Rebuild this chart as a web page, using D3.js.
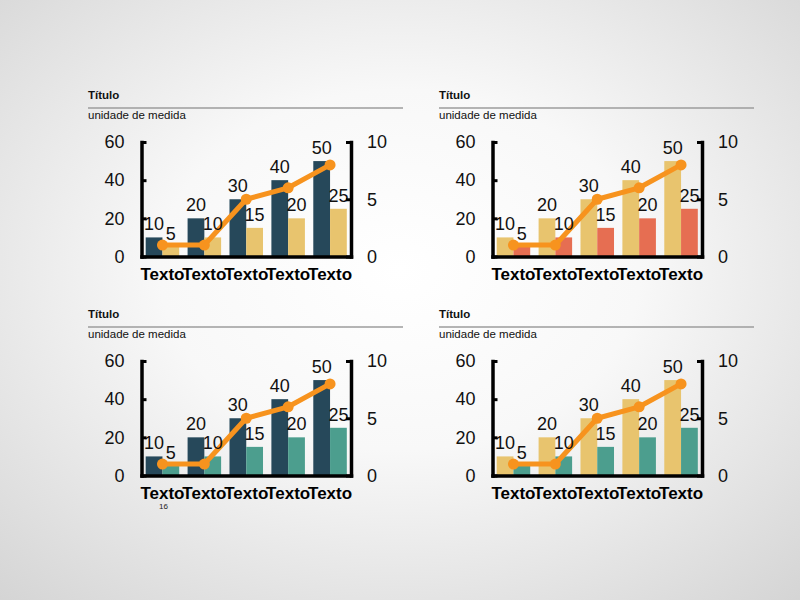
<!DOCTYPE html>
<html>
<head>
<meta charset="utf-8">
<script src="https://cdn.jsdelivr.net/npm/d3@7"></script>
<style>
  html, body { margin: 0; padding: 0; }
  body { width: 800px; height: 600px; overflow: hidden; }
  text { font-family: "Liberation Sans", Arial, sans-serif; }
</style>
</head>
<body>
<svg id="chart" width="800" height="600"></svg>
<script>
// ---- data ----
const categories = ["Texto", "Texto", "Texto", "Texto", "Texto"];
const seriesA = [10, 20, 30, 40, 50];
const seriesB = [5, 10, 15, 20, 25];
const lineValues = [1, 1, 5, 6, 8];
const leftTicks = [0, 20, 40, 60];
const rightTicks = [0, 5, 10];
const titleText = "Título";
const unitText = "unidade de medida";
const pageNumber = "16";

// panel colour pairs (series A, series B)
const panelColors = [
  ["#26485A", "#E8C46E"],
  ["#E8C46E", "#E66E52"],
  ["#26485A", "#4C9E8E"],
  ["#E8C46E", "#4C9E8E"]
];
const panelOffsets = [[0, 0], [351, 0], [0, 219], [351, 219]];
const lineColor = "#F7931E";

const svg = d3.select("#chart");

// background
const defs = svg.append("defs");
const grad = defs.append("radialGradient").attr("id", "bg")
  .attr("cx", "50%").attr("cy", "45%").attr("r", "75%");
grad.append("stop").attr("offset", "0%").attr("stop-color", "#ffffff");
grad.append("stop").attr("offset", "40%").attr("stop-color", "#f8f8f8");
grad.append("stop").attr("offset", "100%").attr("stop-color", "#d4d4d4");
svg.append("rect").attr("width", 800).attr("height", 600).attr("fill", "url(#bg)");

// scales (shared layout, panel-local coordinates)
const x = d3.scaleBand().domain(d3.range(categories.length))
  .range([141.5, 351]).paddingInner(0.2).paddingOuter(0.1);
const xSub = d3.scaleBand().domain([0, 1]).range([0, x.bandwidth()]);
const yL = d3.scaleLinear().domain([0, 60]).range([256.5, 142]);
const yR = d3.scaleLinear().domain([0, 10]).range([256.5, 142]);

panelOffsets.forEach((off, p) => {
  const g = svg.append("g").attr("transform", `translate(${off[0]},${off[1]})`);
  const cols = panelColors[p];

  // title block
  g.append("text").attr("x", 88).attr("y", 99)
    .attr("font-size", 11.5).attr("font-weight", "bold").attr("fill", "#111")
    .text(titleText);
  g.append("line").attr("x1", 88).attr("x2", 403).attr("y1", 108).attr("y2", 108)
    .attr("stroke", "#9c9c9c").attr("stroke-width", 1.5);
  g.append("text").attr("x", 88).attr("y", 118.5)
    .attr("font-size", 11.5).attr("fill", "#111")
    .text(unitText);

  // bars
  const series = [seriesA, seriesB];
  series.forEach((vals, s) => {
    g.append("g").selectAll("rect").data(vals).join("rect")
      .attr("x", (d, i) => x(i) + xSub(s))
      .attr("width", xSub.bandwidth())
      .attr("y", d => yL(d))
      .attr("height", d => yL(0) - yL(d))
      .attr("fill", cols[s]);
  });

  // line
  const lineGen = d3.line()
    .x((d, i) => x(i) + x.bandwidth() / 2)
    .y(d => yR(d));
  g.append("path").datum(lineValues)
    .attr("d", lineGen)
    .attr("fill", "none").attr("stroke", lineColor)
    .attr("stroke-width", 5).attr("stroke-linejoin", "round");
  g.append("g").selectAll("circle").data(lineValues).join("circle")
    .attr("cx", (d, i) => x(i) + x.bandwidth() / 2)
    .attr("cy", d => yR(d))
    .attr("r", 5.5).attr("fill", lineColor);

  // value labels
  series.forEach((vals, s) => {
    g.append("g").selectAll("text").data(vals).join("text")
      .attr("x", (d, i) => x(i) + xSub(s) + xSub.bandwidth() / 2)
      .attr("y", d => yL(d) - 7)
      .attr("text-anchor", "middle")
      .attr("font-size", 18).attr("fill", "#111")
      .text(d => d);
  });

  // left axis
  const axL = g.append("g").attr("transform", `translate(${x.range()[0]},0)`)
    .call(d3.axisLeft(yL).tickValues(leftTicks).tickSize(-5).tickSizeOuter(0).tickPadding(17));
  // right axis
  const axR = g.append("g").attr("transform", `translate(${x.range()[1]},0)`)
    .call(d3.axisRight(yR).tickValues(rightTicks).tickSize(-5).tickSizeOuter(0).tickPadding(16));
  // bottom axis
  const axB = g.append("g").attr("transform", `translate(0,${yL(0)})`)
    .call(d3.axisBottom(x).tickSize(0).tickSizeOuter(0).tickPadding(11)
      .tickFormat(i => categories[i]));

  [axL, axR, axB].forEach(ax => {
    ax.select(".domain").attr("stroke", "#000").attr("stroke-width", 3.5)
      .attr("stroke-linecap", "square");
    ax.selectAll(".tick line").attr("stroke", "#000").attr("stroke-width", 3);
    ax.selectAll(".tick text").attr("fill", "#111")
      .attr("font-family", "'Liberation Sans', Arial, sans-serif");
  });
  axL.selectAll(".tick text").attr("font-size", 18);
  axR.selectAll(".tick text").attr("font-size", 18);
  axB.selectAll(".tick text").attr("font-size", 17).attr("font-weight", "bold").attr("fill", "#000");
});

// page number (absolute position)
svg.append("text").attr("x", 163.5).attr("y", 509)
  .attr("text-anchor", "middle").attr("font-size", 8).attr("fill", "#222")
  .text(pageNumber);
</script>
</body>
</html>
